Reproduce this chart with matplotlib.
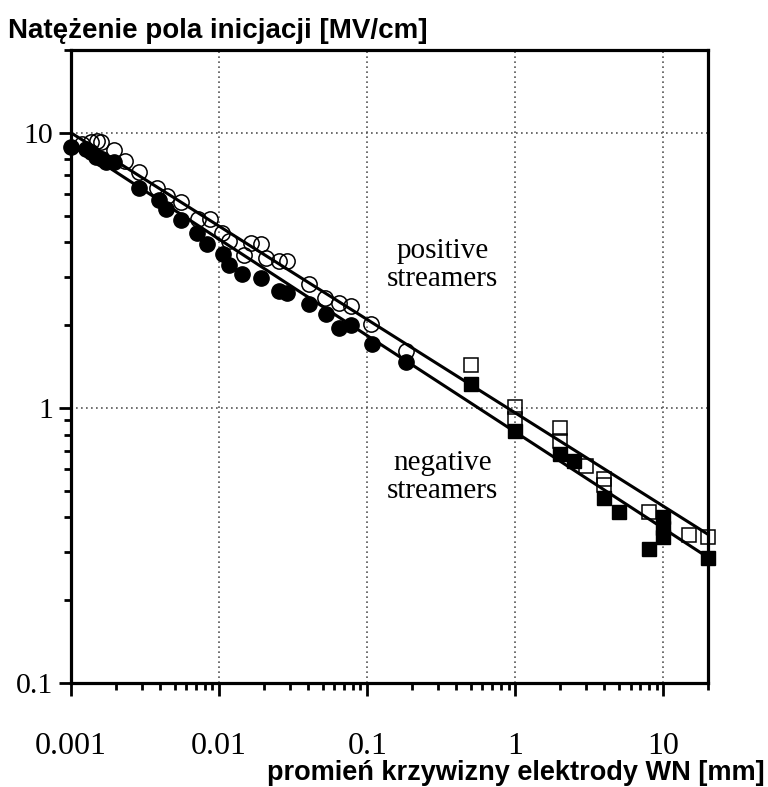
import matplotlib
matplotlib.use("Agg")
import matplotlib.pyplot as plt
import numpy as np

# positive streamers, open circles
pos_circ_x = [0.00119, 0.00137, 0.0015, 0.0016, 0.00195, 0.00232, 0.00288, 0.00381, 0.00445,
              0.00554, 0.00721, 0.0087, 0.01047, 0.01169, 0.01475, 0.01645, 0.01922, 0.0208,
              0.0254, 0.0288, 0.0406, 0.052, 0.0647, 0.078, 0.1064, 0.1835]
pos_circ_y = [9.12, 9.28, 9.35, 9.28, 8.68, 7.92, 7.22, 6.32, 5.91,
              5.62, 4.88, 4.88, 4.31, 4.03, 3.61, 3.96, 3.93, 3.5,
              3.41, 3.41, 2.81, 2.5, 2.4, 2.34, 2.02, 1.61]

# negative streamers, filled circles
neg_circ_x = [0.001, 0.00126, 0.00137, 0.00148, 0.00162, 0.00172, 0.00195, 0.00288, 0.00393,
              0.00438, 0.00554, 0.0071, 0.0083, 0.01064, 0.01169, 0.0143, 0.01922, 0.0254,
              0.0288, 0.0406, 0.0528, 0.0647, 0.078, 0.108, 0.1835]
neg_circ_y = [8.9, 8.75, 8.53, 8.19, 8.05, 7.85, 7.85, 6.32, 5.72,
              5.3, 4.84, 4.31, 3.93, 3.63, 3.32, 3.08, 2.96, 2.65,
              2.61, 2.38, 2.19, 1.95, 2.0, 1.71, 1.47]

# positive streamers, open squares
pos_sq_x = [0.5, 1.0, 1.0, 2.0, 2.0, 3.0, 4.0, 4.0, 8.0, 15.0, 20.0]
pos_sq_y = [1.43, 1.01, 0.91, 0.847, 0.76, 0.616, 0.553, 0.526, 0.42, 0.344, 0.34]

# negative streamers, filled squares
neg_sq_x = [0.5, 1.0, 2.0, 2.5, 4.0, 5.0, 8.0, 10.0, 10.0, 10.0, 20.0]
neg_sq_y = [1.22, 0.826, 0.681, 0.643, 0.472, 0.417, 0.308, 0.40, 0.367, 0.338, 0.284]

# fitted lines (end points)
pos_line_x = [0.001, 20.0]
pos_line_y = [10.0, 0.347]
neg_line_x = [0.001, 20.0]
neg_line_y = [9.2, 0.286]

x_ticks = [0.001, 0.01, 0.1, 1, 10]
x_ticklabels = ["0.001", "0.01", "0.1", "1", "10"]
y_ticks = [0.1, 1, 10]
y_ticklabels = ["0.1", "1", "10"]

fig = plt.figure(figsize=(7.68, 7.87), dpi=100)
ax = fig.add_axes([71/768, 1-683/787, (708-71)/768, (683-50)/787])
ax.set_xscale("log")
ax.set_yscale("log")
ax.set_xlim(0.001, 20)
ax.set_ylim(0.1, 20)

ax.grid(True, which="major", linestyle=(0, (1, 2)), color="#555555", linewidth=1.2)
ax.set_axisbelow(True)

ax.plot(pos_line_x, pos_line_y, color="black", lw=2.2, zorder=3)
ax.plot(neg_line_x, neg_line_y, color="black", lw=2.2, zorder=3)

ms_c = 11
ms_s = 10
ax.plot(pos_circ_x, pos_circ_y, "o", ms=ms_c, mfc="none", mec="black", mew=1.1, zorder=4, clip_on=False)
ax.plot(neg_circ_x, neg_circ_y, "o", ms=ms_c, mfc="black", mec="black", zorder=5, clip_on=False)
ax.plot(pos_sq_x, pos_sq_y, "s", ms=ms_s, mfc="none", mec="black", mew=1.1, zorder=4, clip_on=False)
ax.plot(neg_sq_x, neg_sq_y, "s", ms=ms_s, mfc="black", mec="black", zorder=5, clip_on=False)

serif = ["Liberation Serif", "DejaVu Serif"]
ax.text(0.583, 0.66, "positive\nstreamers", transform=ax.transAxes, ha="center", va="center",
        fontsize=21, family=serif, linespacing=1.1)
ax.text(0.583, 0.325, "negative\nstreamers", transform=ax.transAxes, ha="center", va="center",
        fontsize=21, family=serif, linespacing=1.1)

for s in ax.spines.values():
    s.set_linewidth(2.3)

ax.set_xticks(x_ticks)
ax.set_xticklabels(x_ticklabels)
ax.set_yticks(y_ticks)
ax.set_yticklabels(y_ticklabels)
ax.tick_params(which="major", direction="out", length=9, width=2)
ax.tick_params(which="minor", direction="out", length=5, width=2)
ax.tick_params(axis="x", which="major", pad=26)
ax.tick_params(axis="y", which="major", pad=4)
for lab in ax.get_xticklabels():
    lab.set_family(serif)
    lab.set_fontsize(23)
for lab in ax.get_yticklabels():
    lab.set_family(serif)
    lab.set_fontsize(21.5)
ax.tick_params(axis="y", which="minor", labelleft=False)
ax.tick_params(axis="x", which="minor", labelbottom=False)

fig.text(8/768, 1-31/787, "Natężenie pola inicjacji [MV/cm]", ha="left", va="center",
         fontsize=20, fontweight="bold", family=["Liberation Sans", "DejaVu Sans"])
fig.text(765/768, 1-773/787, "promień krzywizny elektrody WN [mm]", ha="right", va="center",
         fontsize=19.5, fontweight="bold", family=["Liberation Sans", "DejaVu Sans"])

fig.savefig("out.png", dpi=100)
